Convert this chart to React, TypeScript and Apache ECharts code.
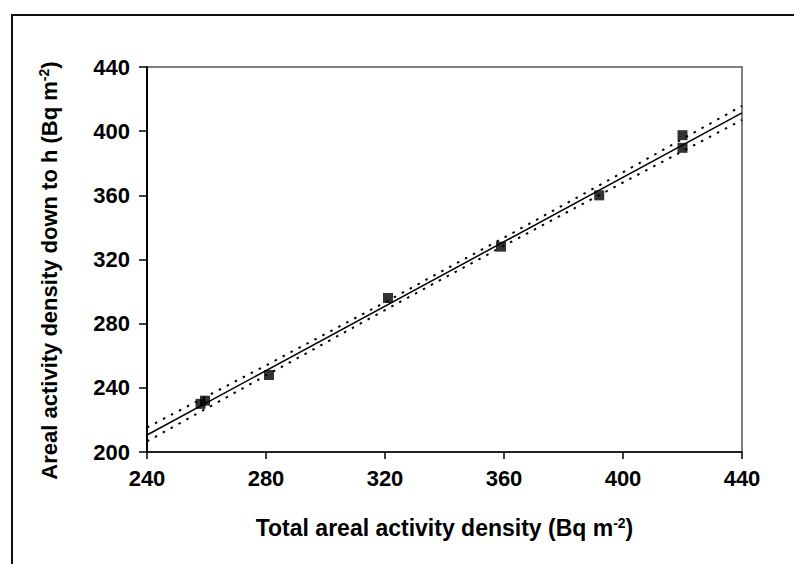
import React, { useEffect, useRef } from "react";
import * as echarts from "echarts";

const xTicks = [240, 280, 320, 360, 400, 440];
const yTicks = [200, 240, 280, 320, 360, 400, 440];

const pointsX = [258, 259.5, 281, 321, 359, 392, 420, 420];
const pointsY = [230, 232, 248, 296, 328, 360, 397.5, 389.6];

const fitX = [240, 440];
const fitY = [210.6, 411.4];

const bandX = [240, 280, 320, 340, 360, 400, 440];
const bandUpper = [215.3, 254.0, 293.3, 313.6, 333.6, 374.4, 415.8];
const bandLower = [206.6, 247.7, 288.5, 308.6, 328.6, 368.0, 407.0];

const FONT = "'Liberation Sans', Arial, sans-serif";

export default function App() {
  const ref = useRef<HTMLDivElement>(null);
  useEffect(() => {
    if (!ref.current) return;
    const chart = echarts.init(ref.current, null, { renderer: "svg" });
    const zip = (xs: number[], ys: number[]) => xs.map((x, i) => [x, ys[i]]);
    const mkRich = (size: number) => ({
      t: { fontSize: size, fontWeight: "bold", fontFamily: FONT, color: "#000" },
      sup: { fontSize: Math.round(size * 0.62), fontWeight: "bold", fontFamily: FONT, color: "#000", verticalAlign: "top", padding: [0, 0, 10, 0] },
    });
    chart.setOption({
      animation: false,
      backgroundColor: "#fff",
      grid: {
        left: 147, right: 52, top: 67, bottom: 112,
        show: true, borderColor: "#555", borderWidth: 1.5, backgroundColor: "transparent",
      },
      graphic: [
        {
          type: "rect",
          shape: { x: 12, y: 15, width: 900, height: 900 },
          style: { fill: "none", stroke: "#111", lineWidth: 2 },
          silent: true,
        },
      ],
      xAxis: {
        type: "value", min: xTicks[0], max: xTicks[xTicks.length - 1], interval: 40,
        splitLine: { show: false },
        axisLine: { show: true, lineStyle: { color: "#222", width: 2 } },
        axisTick: { show: true, inside: false, length: 7, lineStyle: { color: "#000", width: 1.5 } },
        axisLabel: { fontSize: 22, fontWeight: "bold", fontFamily: FONT, color: "#000", margin: 15 },
        name: "{t|Total areal activity density (Bq m}{sup|-2}{t|)}",
        nameLocation: "middle", nameGap: 64,
        nameTextStyle: { rich: mkRich(23) },
      },
      yAxis: {
        type: "value", min: yTicks[0], max: yTicks[yTicks.length - 1], interval: 40,
        splitLine: { show: false },
        axisLine: { show: true, lineStyle: { color: "#000", width: 2 } },
        axisTick: { show: true, inside: false, length: 8, lineStyle: { color: "#000", width: 1.5 } },
        axisLabel: { fontSize: 22, fontWeight: "bold", fontFamily: FONT, color: "#000", margin: 17 },
        name: "{t|Areal activity density down to h (Bq m}{sup|-2}{t|)}",
        nameLocation: "middle", nameGap: 86, nameRotate: 90,
        nameTextStyle: { rich: mkRich(22), padding: [0, 22, 0, 0] },
      },
      series: [
        {
          type: "line", data: zip(bandX, bandUpper), showSymbol: false, symbol: "none",
          lineStyle: { color: "#000", width: 2, type: [2.5, 6.5] }, z: 2,
        },
        {
          type: "line", data: zip(bandX, bandLower), showSymbol: false, symbol: "none",
          lineStyle: { color: "#000", width: 2, type: [2.5, 6.5] }, z: 2,
        },
        {
          type: "line", data: zip(fitX, fitY), showSymbol: false, symbol: "none",
          lineStyle: { color: "#000", width: 1.5 }, z: 3,
        },
        {
          type: "scatter", data: zip(pointsX, pointsY), symbol: "rect", symbolSize: 10,
          itemStyle: { color: "#000" }, z: 4,
        },
      ],
    });
    return () => chart.dispose();
  }, []);
  return (
    <div
      ref={ref}
      style={{ position: "absolute", left: 0, top: 0, width: 794, height: 564 }}
    />
  );
}
